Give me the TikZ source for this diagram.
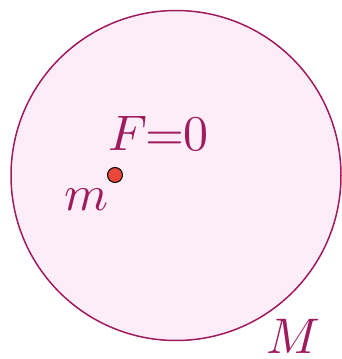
\documentclass[tikz,border=0pt]{standalone}
\usepackage{graphicx}
\usepackage{tikz}
\usetikzlibrary{positioning}

\definecolor{shellline}{HTML}{A01A5E}
\definecolor{shellfill}{HTML}{FDEDF8}
\definecolor{massred}{HTML}{E8473A}

\newcommand{\biglabel}[1]{\scalebox{5}{$#1$}}

\begin{document}
\begin{tikzpicture}[
    x=1pt, y=-1pt,
    every node/.style={text=shellline},
    shell/.style={circle, draw=shellline, fill=shellfill, line width=1.5pt, minimum size=330pt, inner sep=0pt},
    mass/.style={circle, draw=black, fill=massred, line width=1pt, minimum size=15pt, inner sep=0pt},
    tag/.style={anchor=base west, inner sep=0pt}
]
\useasboundingbox (0,0) rectangle (341,359);

% hollow shell and the test mass inside
\node[shell] (shell) at (176,175.5) {};
\node[mass] (mass) at (115,175) {};

% labels
\node[tag] (force) at (108,150) {\biglabel{F\mkern-0.5mu{=}\mkern-0.5mu0}};
\node[tag] (mlabel) at (64,210) {\biglabel{m}};
\node[tag] (Mlabel) at (266,353) {\biglabel{M}};

\end{tikzpicture}
\end{document}
